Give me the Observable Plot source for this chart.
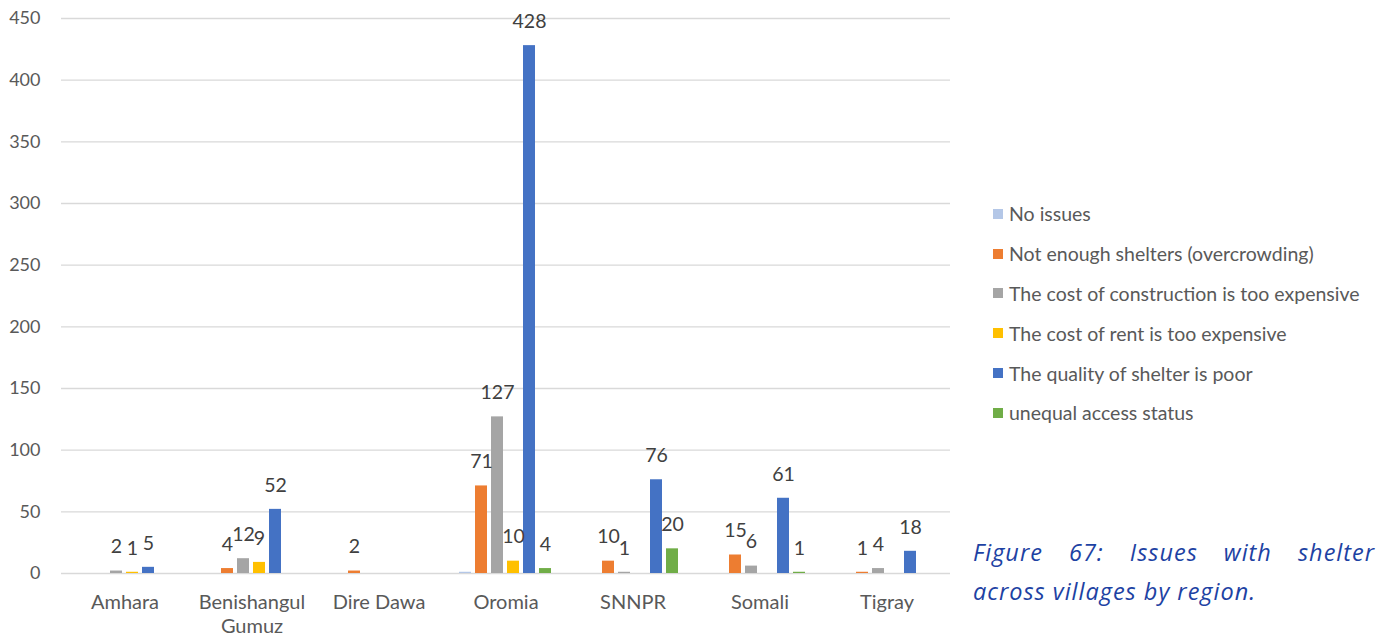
<!DOCTYPE html>
<html>
<head>
<meta charset="utf-8">
<script src="https://cdn.jsdelivr.net/npm/d3@7"></script>
<script src="https://cdn.jsdelivr.net/npm/@observablehq/plot@0.6"></script>
<style>
  html, body { margin: 0; padding: 0; background: #fff; overflow: hidden; }
  #wrap { position: relative; width: 1376px; height: 638px; font-family: Lato, "Open Sans", sans-serif; }
  #chart { position: absolute; left: 0; top: 0; }
  #legend { position: absolute; left: 993px; top: 194px; color: #595959; font-size: 19.5px; }
  .row { height: 39.8px; display: flex; align-items: center; white-space: nowrap; }
  .sw { width: 10px; height: 10px; margin-right: 6px; }
  .cap { position: absolute; left: 973px; color: #1d42a3; font-family: "Open Sans", Lato, sans-serif; font-style: italic; font-size: 23.5px; letter-spacing: 1px; line-height: 39px; white-space: nowrap; }
  #cap1 { top: 533px; width: 402px; text-align: justify; text-align-last: justify; }
  #cap2 { top: 572px; }
</style>
</head>
<body>
<div id="wrap">
  <div id="chart"></div>
  <div id="legend"></div>
  <div class="cap" id="cap1">Figure 67: Issues with shelter</div>
  <div class="cap" id="cap2">across villages by region.</div>
</div>
<script>
const regions = ["Amhara", "Benishangul Gumuz", "Dire Dawa", "Oromia", "SNNPR", "Somali", "Tigray"];
const series = ["No issues", "Not enough shelters (overcrowding)", "The cost of construction is too expensive", "The cost of rent is too expensive", "The quality of shelter is poor", "unequal access status"];
const colors = ["#B4C7E7", "#ED7D31", "#A5A5A5", "#FFC000", "#4472C4", "#70AD47"];
const noIssues     = [0, 0, 0, 1, 0, 0, 0];
const notEnough    = [0, 4, 2, 71, 10, 15, 1];
const construction = [2, 12, 0, 127, 1, 6, 4];
const rent         = [1, 9, 0, 10, 0, 0, 0];
const quality      = [5, 52, 0, 428, 76, 61, 18];
const unequal      = [0, 0, 0, 4, 20, 1, 0];
const yTicks = [0, 50, 100, 150, 200, 250, 300, 350, 400, 450];

const valuesBySeries = [noIssues, notEnough, construction, rent, quality, unequal];
const data = [];
regions.forEach((r, i) => {
  series.forEach((s, j) => {
    data.push({region: r, series: s, value: valuesBySeries[j][i]});
  });
});
const labelled = data.filter(d => d.value > 0 && d.series !== "No issues");

const chart = Plot.plot({
  width: 960,
  height: 638,
  marginLeft: 60,
  marginRight: 9,
  marginTop: 18,
  marginBottom: 65,
  style: {fontFamily: "Lato, 'Open Sans', sans-serif", color: "#595959", background: "transparent"},
  fx: {domain: regions, padding: 0, axis: null},
  x: {domain: series, paddingInner: 0.235, paddingOuter: 0.86, axis: null},
  y: {domain: [0, 450], ticks: yTicks, axis: null},
  color: {domain: series, range: colors},
  marks: [
    Plot.gridY(yTicks, {stroke: "#d9d9d9", strokeOpacity: 1, strokeWidth: 1.3, facet: "exclude"}),
    Plot.axisY(yTicks, {tickSize: 0, tickPadding: 21, fontSize: 18, fill: "#595959", label: null}),
    Plot.axisFx({anchor: "bottom", tickSize: 0, tickPadding: 18, fontSize: 20, fill: "#595959", lineHeight: 1.22, label: null,
      tickFormat: d => d === "Benishangul Gumuz" ? "Benishangul\nGumuz" : d}),
    Plot.barY(data, {fx: "region", x: "series", y: "value", fill: "series"}),
    Plot.text(labelled, {fx: "region", x: "series", y: "value", text: d => String(d.value), dy: -24, fontSize: 19.5, fill: "#404040"})
  ]
});
document.getElementById("chart").appendChild(chart);

const legend = document.getElementById("legend");
series.forEach((s, i) => {
  const row = document.createElement("div");
  row.className = "row";
  const sw = document.createElement("span");
  sw.className = "sw";
  sw.style.background = colors[i];
  const t = document.createElement("span");
  t.textContent = s;
  row.appendChild(sw);
  row.appendChild(t);
  legend.appendChild(row);
});
</script>
</body>
</html>
